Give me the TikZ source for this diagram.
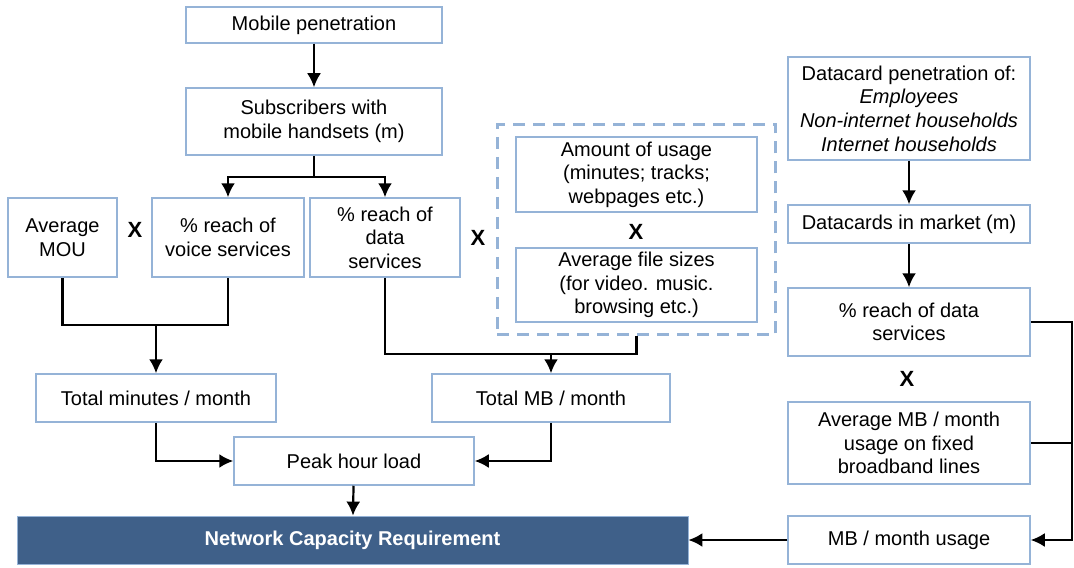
\documentclass[tikz,border=0pt]{standalone}
\usepackage{fontspec}
\setsansfont{Liberation Sans}
\usepackage{tikz}
\usetikzlibrary{positioning,arrows.meta,fit}
\definecolor{boxline}{RGB}{149,179,215}
\definecolor{capfill}{RGB}{63,96,137}
\tikzset{
	every picture/.style={/utils/exec={\sffamily}},
	every node/.style = {font=\fontsize{10}{11.8}\selectfont, inner sep = 2pt},
	box/.style = {draw=boxline, line width=0.75pt, align=center},
	dashbox/.style = {draw=boxline, line width=1.5pt, dash pattern=on 6pt off 4pt},
	times/.style = {font=\fontsize{11}{12}\selectfont\bfseries},
	capbox/.style = {draw=boxline, fill=capfill, text=white, font=\fontsize{10}{12}\selectfont\bfseries},
	link/.style = {line width=1.1pt},
	>={Latex[length=7pt,width=7pt]}
}

\begin{document}
\begin{tikzpicture}[x=0.5pt, y=-0.5pt]
		\useasboundingbox (0,0) rectangle (1074,567);
		% mobile side
		\node[box, minimum width=128pt, minimum height=18pt] (mobpen) at (314,25) {Mobile penetration};
		\node[box, minimum width=128pt, minimum height=33.5pt] (subs) at (314,121.5) {Subscribers with\\mobile handsets (m)};
		\node[box, minimum width=54.5pt, minimum height=39.5pt] (mou) at (62.5,237.5) {Average\\MOU};
		\node[box, minimum width=76pt, minimum height=39.5pt] (voice) at (228,237.5) {\% reach of\\voice services};
		\node[box, minimum width=75pt, minimum height=39.5pt] (data) at (385,237.5) {\% reach of\\data\\services};
		\node[times] (x1) at (135,230) {X};
		\node[times] (x2) at (478,238) {X};
		\node[box, minimum width=120.5pt, minimum height=37.5pt] (usage) at (636.5,174.5) {Amount of usage\\(minutes; tracks;\\webpages etc.)};
		\node[box, minimum width=120.5pt, minimum height=37pt] (filesz) at (636.5,285) {Average file sizes\\(for video. music.\\browsing etc.)};
		\node[times] (x3) at (636,232) {X};
		\node[dashbox, inner xsep=9pt, inner ysep=6pt, fit=(usage)(filesz)] (perunit) {};
		\node[box, minimum width=120pt, minimum height=24pt] (minutes) at (156,398) {Total minutes / month};
		\node[box, minimum width=119pt, minimum height=24pt] (totmb) at (551,398) {Total MB / month};
		\node[box, minimum width=120pt, minimum height=24pt] (peak) at (354,461) {Peak hour load};
		\node[capbox, minimum width=335.5pt, minimum height=24pt] (network) at (352.5,540) {Network Capacity Requirement};
		% datacard side
		\node[box, minimum width=121pt, minimum height=51.5pt] (dcpen) at (909,108.5) {Datacard penetration of:\\\textit{Employees}\\\textit{Non-internet households}\\\textit{Internet households}};
		\node[box, minimum width=121pt, minimum height=19pt] (dcmkt) at (909,224) {Datacards in market (m)};
		\node[box, minimum width=121pt, minimum height=34pt] (reach) at (909,322) {\% reach of data\\services};
		\node[times] (x4) at (907,379) {X};
		\node[box, minimum width=121pt, minimum height=41pt] (avgmb) at (909,443) {Average MB / month\\usage on fixed\\broadband lines};
		\node[box, minimum width=121pt, minimum height=24pt] (mbuse) at (909,540) {MB / month usage};
		
		\coordinate (split) at (314,177);
		\coordinate (vjoin) at (156,325);
		\coordinate (djoin) at (551,354);
		\coordinate (rtop) at (1072,322);
		\coordinate (rbot) at (1072,540);
		
		\draw[link,->] (mobpen) -- (subs);
		\draw[link,->] (subs) -- (split) -| (voice);
		\draw[link,->] (split) -| (data);
		\draw[link] (mou.south) |- (vjoin) -| (voice.south);
		\draw[link,->] (vjoin) -- (minutes);
		\draw[link] (data.south) |- (djoin) -| (perunit.south);
		\draw[link,->] (djoin) -- (totmb);
		\draw[link,->] (minutes.south) |- (peak.west);
		\draw[link,->] (totmb.south) |- (peak.east);
		\draw[link,->] (peak) -- (network);
		
		\draw[link,->] (dcpen) -- (dcmkt);
		\draw[link,->] (dcmkt) -- (reach);
		\draw[link,->] (reach.east) -- (rtop) -- (rbot) -- (mbuse.east);
		\draw[link] (avgmb.east) -- (avgmb.east -| rtop);
		\draw[link,->] (mbuse) -- (network);
\end{tikzpicture}
\end{document}
